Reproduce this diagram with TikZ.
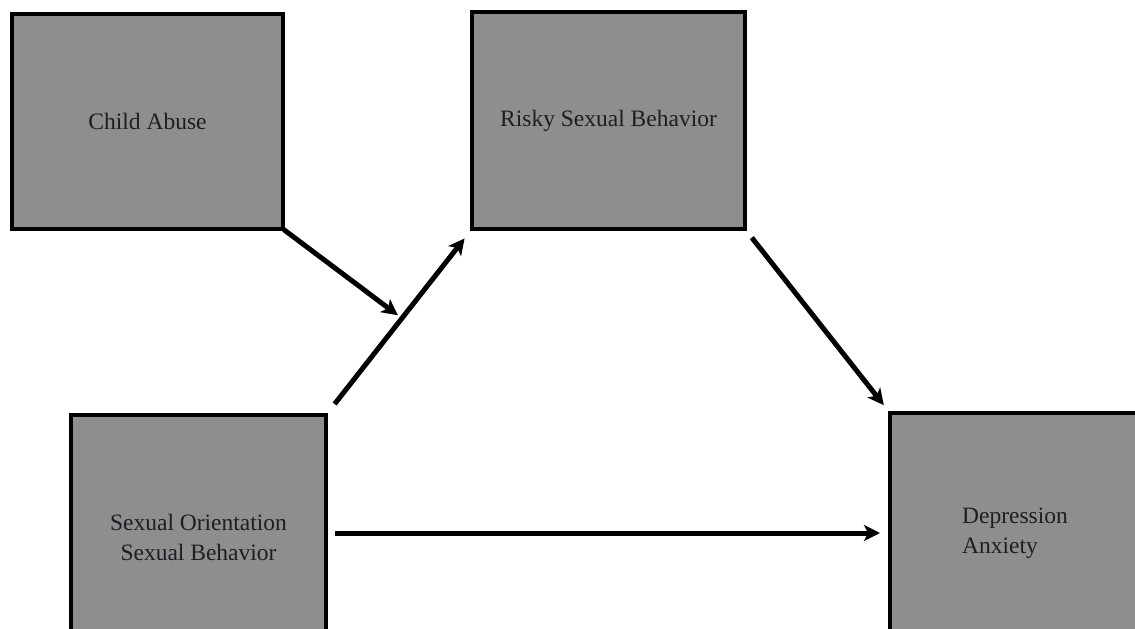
\documentclass[tikz,border=0pt]{standalone}
\usepackage{fontspec}
\setmainfont{Liberation Serif}
\usetikzlibrary{arrows.meta,calc}
\definecolor{boxgray}{HTML}{8E8E8E}
\definecolor{txt}{HTML}{1E1E24}
\tikzset{
  box/.style={draw=black, fill=boxgray, line width=3.5pt, text=txt,
    font=\fontsize{23.5}{30}\selectfont, inner sep=0pt, outer sep=0pt},
  arr/.style={draw=black, line width=5pt,
    -{Stealth[length=16pt,width=16pt,inset=4pt]}}
}
\begin{document}
\begin{tikzpicture}[x=1pt,y=-1pt]
\useasboundingbox (0,0) rectangle (1135,629);
\clip (0,0) rectangle (1135,629);
\fill[white] (0,0) rectangle (1135,629);
\node[box, minimum width=271pt, minimum height=215pt] (ca) at (147.5,121.5) {Child Abuse};
\node[box, minimum width=273pt, minimum height=217pt] (rsb) at (608.5,120.5) {Risky Sexual Behavior};
\node[box, minimum width=255pt, minimum height=244pt, align=center] (so) at (198.5,537) {Sexual Orientation\\Sexual Behavior};
\node[box, minimum width=250pt, minimum height=240pt, align=left] (dep) at (1015,533) {Depression\\Anxiety};
\draw[arr, shorten <=14pt, shorten >=12pt] (so.north east) -- coordinate[pos=0.52] (mid) (rsb.south west);
\draw[arr, shorten <=1pt, shorten >=5pt] (ca.south east) -- (mid);
\draw[arr, shorten <=11pt, shorten >=10pt] (rsb.south east) -- (dep.north west);
\draw[arr, shorten <=9pt, shorten >=10pt] (so.east |- dep.west) -- (dep.west);
\end{tikzpicture}
\end{document}
